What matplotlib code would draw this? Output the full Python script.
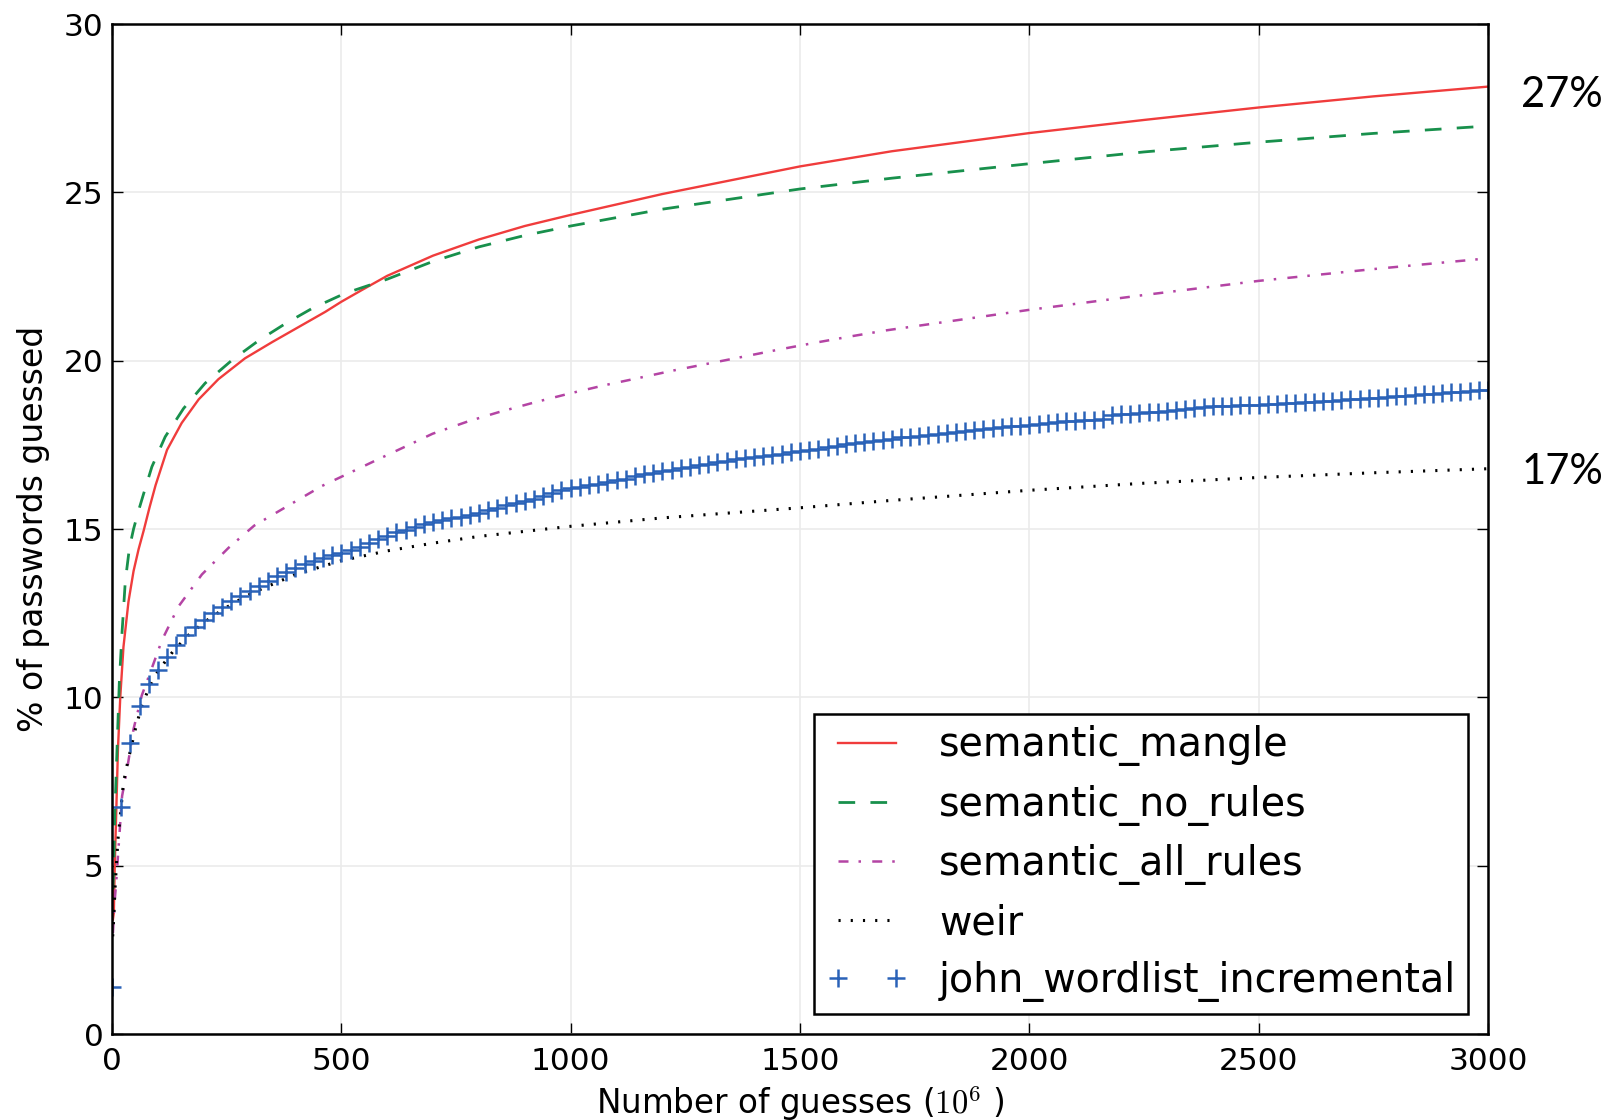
import numpy as np
import matplotlib
matplotlib.use("Agg")
import matplotlib.pyplot as plt

plt.rcParams["font.family"] = "DejaVu Sans"
plt.rcParams["mathtext.fontset"] = "cm"

# semantic_mangle (red, solid)
mangle_x = [2, 4, 6, 9, 13, 18, 25, 36, 47, 58, 69, 82, 95, 120, 152, 189, 232, 290, 349,
            407, 465, 500, 545, 600, 700, 800, 900, 1000, 1200, 1500, 1700, 2000, 2250,
            2500, 2750, 3000]
mangle_y = [3.4, 3.6, 5.0, 6.47, 8.47, 10.0, 11.5, 12.85, 13.75, 14.4, 14.95, 15.65, 16.3,
            17.35, 18.15, 18.85, 19.45, 20.07, 20.55, 21.0, 21.45, 21.75, 22.1, 22.52, 23.12,
            23.6, 24.0, 24.33, 24.95, 25.77, 26.22, 26.76, 27.15, 27.52, 27.85, 28.14]

# semantic_no_rules (green, dashed)
norules_x = [2, 4, 6, 11, 16, 22, 29, 38, 47, 58, 69, 87, 116, 156, 203, 262, 320, 378, 436,
             500, 530, 600, 700, 800, 900, 1000, 1200, 1500, 1700, 2000, 2250, 2500, 2750, 3000]
norules_y = [4.3, 5.0, 6.47, 8.47, 10.46, 11.95, 13.45, 14.44, 15.0, 15.55, 16.05, 16.85, 17.74,
             18.58, 19.33, 20.02, 20.6, 21.1, 21.55, 21.95, 22.1, 22.42, 22.95, 23.38, 23.72,
             24.0, 24.5, 25.1, 25.42, 25.85, 26.2, 26.49, 26.75, 26.97]

# semantic_all_rules (magenta, dash-dot)
allrules_x = [2, 6, 9, 15, 22, 33, 47, 65, 84, 109, 145, 196, 254, 310, 385, 458, 534, 577,
              643, 699, 777, 843, 921, 999, 1077, 1143, 1221, 1299, 1377, 1454, 1532, 1610,
              1688, 2000, 2250, 2500, 2750, 3000]
allrules_y = [3.0, 3.98, 4.48, 5.68, 7.07, 7.87, 9.06, 10.06, 10.76, 11.7, 12.7, 13.65, 14.44,
              15.1, 15.7, 16.28, 16.77, 17.05, 17.47, 17.83, 18.2, 18.47, 18.76, 19.03, 19.28,
              19.47, 19.7, 19.91, 20.12, 20.33, 20.53, 20.72, 20.9, 21.51, 21.95, 22.37,
              22.72, 23.04]

# weir (black, dotted)
weir_x = [1.5, 4, 6, 9, 13, 18, 25, 35, 51, 64, 80, 94, 118, 134, 167, 203, 243, 285, 309,
          400, 500, 600, 700, 800, 1000, 1200, 1500, 1700, 2000, 2250, 2500, 2750, 3000]
weir_y = [2.9, 3.49, 4.18, 4.88, 5.78, 6.47, 7.47, 8.12, 9.06, 9.71, 10.26, 10.65, 11.1, 11.38,
          11.85, 12.25, 12.62, 12.95, 13.12, 13.65, 14.06, 14.35, 14.58, 14.78, 15.08, 15.33,
          15.63, 15.85, 16.15, 16.36, 16.53, 16.67, 16.79]

# john_wordlist_incremental (blue '+'), one point every 20 million guesses
john_x = np.arange(0, 3001, 20)
john_y = [1.41, 6.75, 8.65, 9.75, 10.4, 10.8, 11.2, 11.55, 11.85, 12.1,
          12.3, 12.5, 12.68, 12.85, 13.0, 13.15, 13.3, 13.45, 13.6, 13.72,
          13.85, 13.95, 14.05, 14.15, 14.22, 14.3, 14.38, 14.48, 14.58, 14.7,
          14.8, 14.9, 14.98, 15.06, 15.14, 15.22, 15.27, 15.32, 15.37, 15.42,
          15.47, 15.55, 15.63, 15.7, 15.76, 15.82, 15.9, 15.98, 16.06, 16.15,
          16.22, 16.26, 16.3, 16.35, 16.4, 16.46, 16.5, 16.56, 16.62, 16.67,
          16.72, 16.76, 16.8, 16.85, 16.9, 16.94, 16.98, 17.03, 17.07, 17.11,
          17.15, 17.18, 17.21, 17.24, 17.28, 17.31, 17.35, 17.39, 17.43, 17.47,
          17.52, 17.55, 17.59, 17.62, 17.65, 17.68, 17.72, 17.74, 17.76, 17.78,
          17.81, 17.84, 17.87, 17.9, 17.93, 17.96, 18.0, 18.02, 18.05, 18.07,
          18.1, 18.12, 18.15, 18.18, 18.2, 18.22, 18.23, 18.25, 18.27, 18.38,
          18.41, 18.43, 18.45, 18.47, 18.49, 18.51, 18.54, 18.57, 18.6, 18.62,
          18.64, 18.65, 18.66, 18.67, 18.68, 18.69, 18.71, 18.72, 18.74, 18.75,
          18.77, 18.78, 18.8, 18.81, 18.83, 18.85, 18.86, 18.88, 18.9, 18.92,
          18.94, 18.96, 18.98, 19.0, 19.02, 19.04, 19.06, 19.08, 19.1, 19.12,
          19.14]

labels = ["semantic_mangle", "semantic_no_rules", "semantic_all_rules", "weir",
          "john_wordlist_incremental"]
side_notes = ["27%", "17%"]
side_note_y = [27.9, 16.7]

fig = plt.figure(figsize=(16.11, 11.2), dpi=100)
ax = fig.add_axes([112 / 1611, 1 - 1034 / 1120, (1488 - 112) / 1611, (1034 - 24) / 1120])

ax.plot(mangle_x, mangle_y, color="#f03c3c", lw=1.7, label=labels[0])
ax.plot(norules_x, norules_y, color="#18904c", lw=2.0, dashes=(6, 5.5), label=labels[1])
ax.plot(allrules_x, allrules_y, color="#b444a4", lw=1.8, dashes=(4, 4, 1, 4.5), label=labels[2])
ax.plot(weir_x, weir_y, color="black", lw=2.2, dashes=(0.7, 3.3), label=labels[3])
ax.plot(john_x, john_y, color="#2a62b8", ls="none", marker="+", ms=13, mew=1.8,
        label=labels[4])

ax.set_xlim(0, 3000)
ax.set_ylim(0, 30)
ax.set_xticks([0, 500, 1000, 1500, 2000, 2500, 3000])
ax.set_yticks([0, 5, 10, 15, 20, 25, 30])
ax.grid(True, color="#ebebeb", lw=1.2)
ax.set_axisbelow(True)
for sp in ax.spines.values():
    sp.set_linewidth(1.8)
ax.tick_params(direction="in", length=8, width=1, top=True, right=True,
               labelsize=22.5)
ax.tick_params(axis="x", pad=9)
ax.tick_params(axis="y", pad=6)

ax.set_xlabel(r"Number of guesses ($10^6$ )", fontsize=23.5, labelpad=6)
ax.set_ylabel("% of passwords guessed", fontsize=23.8, labelpad=10)

leg = ax.legend(loc="lower right", fontsize=28.5, handlelength=2.05, handletextpad=0.8,
                labelspacing=0.46, borderpad=0.3, numpoints=2, fancybox=False,
                framealpha=1)
leg.get_frame().set_edgecolor("black")
leg.get_frame().set_linewidth(1.8)

for txt, yv in zip(side_notes, side_note_y):
    ax.text(1.054, yv, txt, transform=ax.get_yaxis_transform(), fontsize=30,
            family="Lato", ha="center", va="center", clip_on=False)

fig.savefig("out.png", dpi=100)
